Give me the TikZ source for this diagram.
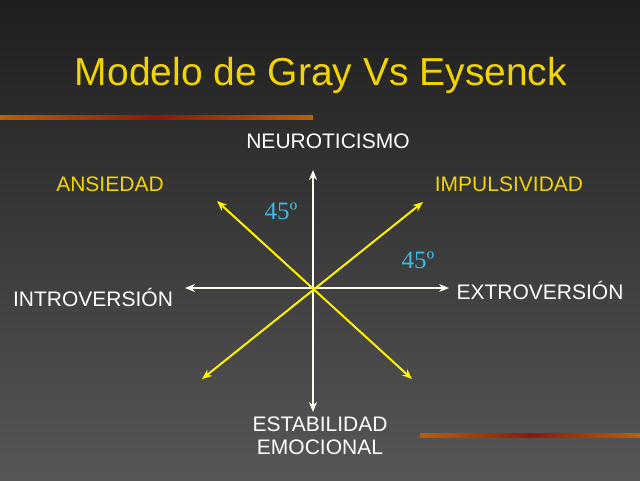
\documentclass[tikz,border=0pt]{standalone}
\usepackage{fontspec}
\setmainfont{Liberation Sans}
\newfontfamily\timesf{Liberation Serif}
\usetikzlibrary{arrows.meta}
\definecolor{ttl}{HTML}{F2D400}
\definecolor{cyanl}{HTML}{3FB8E8}
\definecolor{bandA}{HTML}{B8600A}
\definecolor{bandB}{HTML}{8A1A0A}
\begin{document}
\begin{tikzpicture}[x=1pt,y=-1pt,
  lab/.style={text=white,font=\fontsize{21}{23}\selectfont,align=center},
  ylab/.style={text=ttl,font=\fontsize{21}{23}\selectfont},
  deg/.style={text=cyanl,font=\timesf\fontsize{25}{27}\selectfont},
  wax/.style={draw=white!92!yellow,line width=2pt,{Stealth[length=10pt,width=8pt]}-{Stealth[length=10pt,width=8pt]}},
  yax/.style={draw=yellow,line width=2pt,{Stealth[length=10pt,width=8pt]}-{Stealth[length=10pt,width=8pt]}},
  band/.style={left color=bandA,right color=bandA,middle color=bandB}]
\shade[shading angle=60,bottom color=black!66,top color=black!88] (0,0) rectangle (640,480);
\useasboundingbox (0,0) rectangle (640,480);
\shade[band] (0,115) rectangle (313,119.5);
\shade[band] (420,433) rectangle (640,437.5);
\node[text=ttl,font=\fontsize{39}{42}\selectfont] (title) at (321,75) {Modelo de Gray Vs Eysenck};
\coordinate (c) at (313,288);
\coordinate (t) at (313,170);
\coordinate (b) at (313,412);
\coordinate (l) at (185,288);
\coordinate (r) at (449,288);
\coordinate (tl) at (217,201);
\coordinate (tr) at (423,202);
\coordinate (bl) at (202,379);
\coordinate (br) at (412,379);
\draw[wax] (t) -- (b);
\draw[wax] (l) -- (r);
\draw[yax] (tl) -- (br);
\draw[yax] (tr) -- (bl);
\node[lab] (neu) at (328,141) {NEUROTICISMO};
\node[lab,align=center] (est) at (320,436) {ESTABILIDAD\\EMOCIONAL};
\node[lab] (intro) at (93,297) {INTROVERSIÓN};
\node[lab] (extro) at (540,290) {EXTROVERSIÓN};
\node[ylab] (ans) at (110,184) {ANSIEDAD};
\node[ylab] (imp) at (509,184) {IMPULSIVIDAD};
\node[deg] (d1) at (281,211) {45º};
\node[deg] (d2) at (418,260) {45º};
\end{tikzpicture}
\end{document}
